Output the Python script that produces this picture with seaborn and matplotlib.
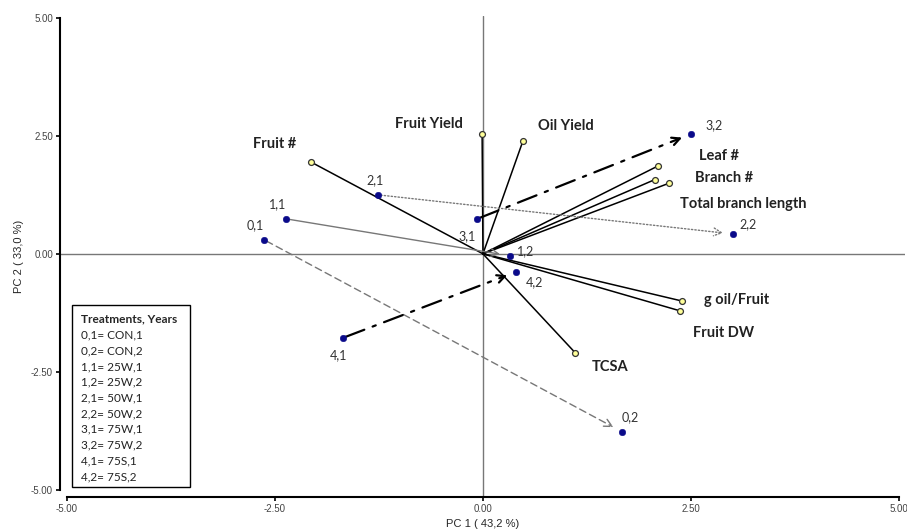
#!/usr/bin/env python3

import pandas as pd
import matplotlib.pyplot as plt
import seaborn as sns


# treatment scores (PC1, PC2)
treatments = ["0,1", "1,1", "2,1", "3,1", "4,1", "0,2", "1,2", "2,2", "3,2", "4,2"]
pc1_scores = [-2.63, -2.36, -1.26, -0.07, -1.68, 1.67, 0.32, 3.00, 2.50, 0.40]
pc2_scores = [0.30, 0.74, 1.25, 0.74, -1.78, -3.77, -0.04, 0.42, 2.54, -0.38]

# variable loadings
variables = ["Fruit #", "Fruit Yield", "Oil Yield", "Leaf #", "Branch #",
             "Total branch length", "g oil/Fruit", "Fruit DW", "TCSA"]
pc1_loadings = [-2.07, -0.01, 0.48, 2.10, 2.06, 2.24, 2.39, 2.37, 1.11]
pc2_loadings = [1.95, 2.54, 2.39, 1.86, 1.57, 1.50, -1.00, -1.21, -2.10]

legend_title = "Treatments, Years"
legend_lines = ["0,1= CON,1", "0,2= CON,2", "1,1= 25W,1", "1,2= 25W,2",
                "2,1= 50W,1", "2,2= 50W,2", "3,1= 75W,1", "3,2= 75W,2",
                "4,1= 75S,1", "4,2= 75S,2"]

ticks = [-5.0, -2.5, 0.0, 2.5, 5.0]


def main():
    sns.set_theme(style="ticks")
    plt.rcParams["font.family"] = ["Lato", "DejaVu Sans"]

    scores = pd.DataFrame({"treatment": treatments, "PC1": pc1_scores, "PC2": pc2_scores})
    loads = pd.DataFrame({"variable": variables, "PC1": pc1_loadings, "PC2": pc2_loadings})

    fig = plt.figure(figsize=(9.07, 5.32), dpi=100)
    ax = fig.add_axes([0.066, 0.066, 0.932, 0.904])

    ax.axhline(0, color="#777777", lw=1.0, zorder=1)
    ax.axvline(0, color="#777777", lw=1.0, zorder=1)

    # loading vectors
    for _, r in loads.iterrows():
        ax.plot([0, r["PC1"]], [0, r["PC2"]], color="black", lw=1.1, zorder=2)

    # year 1 -> year 2 arrows
    pos = scores.set_index("treatment")
    arrow_styles = {
        "0": dict(color="#777777", lw=1.0, linestyle=(0, (5, 3))),
        "1": dict(color="#777777", lw=1.0, linestyle="-"),
        "2": dict(color="#777777", lw=1.0, linestyle=(0, (1, 1.5))),
        "3": dict(color="black", lw=1.6, linestyle=(0, (9, 4, 1.5, 4))),
        "4": dict(color="black", lw=1.6, linestyle=(0, (9, 4, 1.5, 4))),
    }
    for t, st in arrow_styles.items():
        a = pos.loc[f"{t},1"]
        b = pos.loc[f"{t},2"]
        ax.annotate("", xy=(b["PC1"], b["PC2"]), xytext=(a["PC1"], a["PC2"]),
                    arrowprops=dict(arrowstyle="->", shrinkA=2, shrinkB=7,
                                    mutation_scale=14, **st), zorder=3)

    sns.scatterplot(data=loads, x="PC1", y="PC2", color="#ffff99", edgecolor="#333333",
                    linewidth=0.9, s=18, ax=ax, zorder=4, legend=False)
    sns.scatterplot(data=scores, x="PC1", y="PC2", color="#0a0a8a", edgecolor="#0a0a8a",
                    s=22, ax=ax, zorder=5, legend=False)

    # treatment labels
    score_offsets = {
        "0,1": (-6, 6, "center", "bottom"), "1,1": (-6, 6, "center", "bottom"),
        "2,1": (-2, 6, "center", "bottom"), "3,1": (-7, -8, "center", "top"),
        "4,1": (-3, -8, "center", "top"), "0,2": (6, 6, "center", "bottom"),
        "1,2": (5, 3, "left", "center"), "2,2": (5, 3, "left", "bottom"),
        "3,2": (10, 2, "left", "bottom"), "4,2": (7, -3, "left", "top"),
    }
    for _, r in scores.iterrows():
        dx, dy, ha, va = score_offsets[r["treatment"]]
        ax.annotate(r["treatment"], (r["PC1"], r["PC2"]), xytext=(dx, dy),
                    textcoords="offset points", ha=ha, va=va, fontsize=9,
                    color="#333333", zorder=6)

    # variable labels
    var_offsets = {
        "Fruit #": (-26, 13), "Fruit Yield": (-38, 7), "Oil Yield": (31, 11),
        "Leaf #": (44, 7), "Branch #": (50, 1), "Total branch length": (53, -15),
        "g oil/Fruit": (39, 1), "Fruit DW": (31, -16), "TCSA": (25, -10),
    }
    for _, r in loads.iterrows():
        dx, dy = var_offsets[r["variable"]]
        ax.annotate(r["variable"], (r["PC1"], r["PC2"]), xytext=(dx, dy),
                    textcoords="offset points", ha="center", va="center",
                    fontsize=10.5, fontweight="bold", color="#222222", zorder=6)

    # legend box (treatment codes)
    ax.add_patch(plt.Rectangle((-4.93, -4.94), 1.41, 3.86, fill=False,
                               edgecolor="black", lw=1.0, zorder=7))
    ax.text(-4.83, -1.38, legend_title, fontsize=8.6, fontweight="bold",
            va="center", ha="left", zorder=7)
    for i, line in enumerate(legend_lines):
        ax.text(-4.83, -1.72 - i * 0.333, line, fontsize=8.5, va="center",
                ha="left", color="#222222", zorder=7)

    ax.set_xlim(-5.08, 5.07)
    ax.set_ylim(-5.15, 5.04)
    ax.set_xticks(ticks)
    ax.set_yticks(ticks)
    ax.set_xticklabels([f"{t:.2f}" for t in ticks], family="Liberation Sans")
    ax.set_yticklabels([f"{t:.2f}" for t in ticks], family="Liberation Sans")
    ax.tick_params(labelsize=7, colors="black", labelcolor="#444444", length=3, width=1.2, pad=2)
    ax.set_xlabel("PC 1 ( 43,2 %)", fontsize=8, family="Liberation Sans", labelpad=4)
    ax.set_ylabel("PC 2 ( 33,0 %)", fontsize=8, family="Liberation Sans", labelpad=5)

    sns.despine(ax=ax)
    ax.spines["left"].set_bounds(-5, 5)
    ax.spines["bottom"].set_bounds(-5, 5)
    for s in ["left", "bottom"]:
        ax.spines[s].set_linewidth(1.5)
        ax.spines[s].set_color("black")

    plt.savefig("out.png", dpi=100)
    plt.close()


if __name__ == "__main__":
    main()
